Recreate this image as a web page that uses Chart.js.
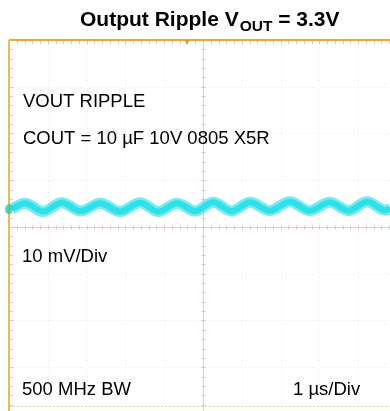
<!DOCTYPE html>
<html lang="en">
<head>
<meta charset="UTF-8">
<title>Output Ripple VOUT = 3.3V</title>
<script src="https://cdn.jsdelivr.net/npm/chart.js"></script>
<style>
  html, body { margin: 0; padding: 0; background: #fff; }
</style>
</head>
<body>
<canvas id="scope" width="390" height="411"></canvas>
<script>
// ripple trace, time in µs and voltage in mV (AC coupled, offset from centre line)
var timeUs   = [0.08, 0.41, 0.88, 1.36, 1.85, 2.35, 2.86, 3.38, 3.85, 4.33, 4.80, 5.26, 5.74, 6.21, 6.72, 7.24, 7.75, 8.27, 8.75, 9.23, 9.70, 9.82];
var rippleMv = [3.9,  5.1,  3.3,  5.2,  3.4,  5.1,  3.3,  5.2,  3.3,  5.1,  3.4,  5.3,  3.4,  5.3,  3.5,  5.4,  3.5,  5.3,  3.5,  5.4,  3.6,  3.9];

// graticule divisions (1 µs/div, 10 mV/div)
var xDivs = [1, 2, 3, 4, 5, 6, 7, 8, 9];
var yDivs = [-30, -20, -10, 0, 10, 20, 30];
var channelOffset = 3.8;   // CH1 marker on the left edge
var triggerTime = 4.59;    // trigger marker on the top edge

var points = timeUs.map(function (t, i) { return { x: t, y: rippleMv[i] }; });

var scopePlugin = {
    id: 'scope',
    beforeDatasetsDraw: function (chart) {
        var ctx = chart.ctx, a = chart.chartArea;
        var xs = chart.scales.x, ys = chart.scales.y;
        ctx.save();
        // faint dotted graticule
        ctx.lineWidth = 1;
        ctx.setLineDash([1, 3]);
        ctx.strokeStyle = '#ebebeb';
        xDivs.forEach(function (v) {
            if (v === 5) return;
            var px = Math.round(xs.getPixelForValue(v)) + 0.5;
            ctx.beginPath(); ctx.moveTo(px, a.top); ctx.lineTo(px, a.bottom); ctx.stroke();
        });
        yDivs.forEach(function (v) {
            if (v === 0) return;
            var py = Math.round(ys.getPixelForValue(v)) + 0.5;
            ctx.beginPath(); ctx.moveTo(a.left, py); ctx.lineTo(a.right, py); ctx.stroke();
        });
        ctx.setLineDash([]);

        // centre crosshair with minor ticks
        var cx = Math.round(xs.getPixelForValue(5)) + 0.5;
        var cy = Math.round(ys.getPixelForValue(0)) + 0.5;
        ctx.strokeStyle = '#d2d2d2';
        ctx.beginPath(); ctx.moveTo(cx, a.top); ctx.lineTo(cx, a.bottom); ctx.stroke();
        ctx.beginPath(); ctx.moveTo(a.left, cy); ctx.lineTo(a.right, cy); ctx.stroke();
        ctx.strokeStyle = '#e2c4c4';
        var t;
        for (t = 0.2; t < 10; t += 0.2) {
            var tx = Math.round(xs.getPixelForValue(t)) + 0.5;
            ctx.beginPath(); ctx.moveTo(tx, cy - 2); ctx.lineTo(tx, cy + 2); ctx.stroke();
            ctx.beginPath(); ctx.moveTo(tx, a.top); ctx.lineTo(tx, a.top + 4); ctx.stroke();
        }
        for (t = -40; t <= 40; t += 2) {
            var ty = Math.round(ys.getPixelForValue(t)) + 0.5;
            ctx.beginPath(); ctx.moveTo(cx - 2, ty); ctx.lineTo(cx + 2, ty); ctx.stroke();
            ctx.beginPath(); ctx.moveTo(a.left, ty); ctx.lineTo(a.left + 4, ty); ctx.stroke();
        }

        // bottom graticule edge
        ctx.strokeStyle = '#ddd6a6';
        ctx.setLineDash([2, 2]);
        ctx.beginPath(); ctx.moveTo(a.left, 406.5); ctx.lineTo(a.right, 406.5); ctx.stroke();
        ctx.setLineDash([]);

        // orange frame on top and left
        ctx.lineWidth = 2;
        ctx.strokeStyle = '#e8a83c';
        ctx.beginPath(); ctx.moveTo(a.left, a.top); ctx.lineTo(a.right, a.top); ctx.stroke();
        ctx.strokeStyle = '#e8bc58';
        ctx.beginPath(); ctx.moveTo(a.left, a.top); ctx.lineTo(a.left, a.bottom); ctx.stroke();

        // trigger marker
        var gx = xs.getPixelForValue(triggerTime);
        ctx.fillStyle = '#e09a28';
        ctx.beginPath(); ctx.moveTo(gx - 2.5, a.top); ctx.lineTo(gx + 2.5, a.top); ctx.lineTo(gx, a.top + 5); ctx.closePath(); ctx.fill();
        ctx.restore();
    },
    afterDraw: function (chart) {
        var ctx = chart.ctx, a = chart.chartArea;
        var ys = chart.scales.y;
        ctx.save();
        // channel marker
        var my = ys.getPixelForValue(channelOffset);
        ctx.fillStyle = 'rgba(40, 200, 190, 0.8)';
        ctx.beginPath(); ctx.ellipse(a.left, my, 4, 5, 0, 0, Math.PI * 2); ctx.fill();

        // title
        ctx.fillStyle = '#000';
        ctx.textBaseline = 'alphabetic';
        ctx.font = 'bold 21px "Liberation Sans", Arial, sans-serif';
        var x = 80;
        ctx.fillText('Output Ripple V', x, 26);
        x += ctx.measureText('Output Ripple V').width;
        ctx.font = 'bold 15.5px "Liberation Sans", Arial, sans-serif';
        ctx.fillText('OUT', x + 1, 31);
        x += ctx.measureText('OUT').width + 1;
        ctx.font = 'bold 21px "Liberation Sans", Arial, sans-serif';
        ctx.fillText(' = 3.3V', x, 26);

        // scope annotations
        ctx.font = '18.5px "Liberation Sans", Arial, sans-serif';
        ctx.fillText('VOUT RIPPLE', 23, 107);
        ctx.fillText('COUT = 10 µF 10V 0805 X5R', 23, 144);
        ctx.fillText('10 mV/Div', 22, 262);
        ctx.fillText('500 MHz BW', 22, 395);
        ctx.fillText('1 µs/Div', 293, 395);
        ctx.restore();
    }
};

var chart = new Chart(document.getElementById('scope'), {
    type: 'line',
    data: {
        datasets: [{
            data: points,
            borderColor: 'rgba(60, 228, 234, 0.7)',
            borderWidth: 11,
            pointRadius: 0,
            cubicInterpolationMode: 'monotone'
        }, {
            data: points,
            borderColor: 'rgba(0, 214, 224, 0.95)',
            borderWidth: 6,
            pointRadius: 0,
            cubicInterpolationMode: 'monotone'
        }]
    },
    options: {
        responsive: false,
        animation: false,
        layout: { padding: { left: 9, top: 40, right: 0, bottom: 0 } },
        plugins: { legend: { display: false }, tooltip: { enabled: false }, title: { display: false } },
        scales: {
            x: { type: 'linear', min: 0, max: 9.82, display: false },
            y: { min: -39.36, max: 40, display: false }
        }
    },
    plugins: [scopePlugin]
});
</script>
</body>
</html>
